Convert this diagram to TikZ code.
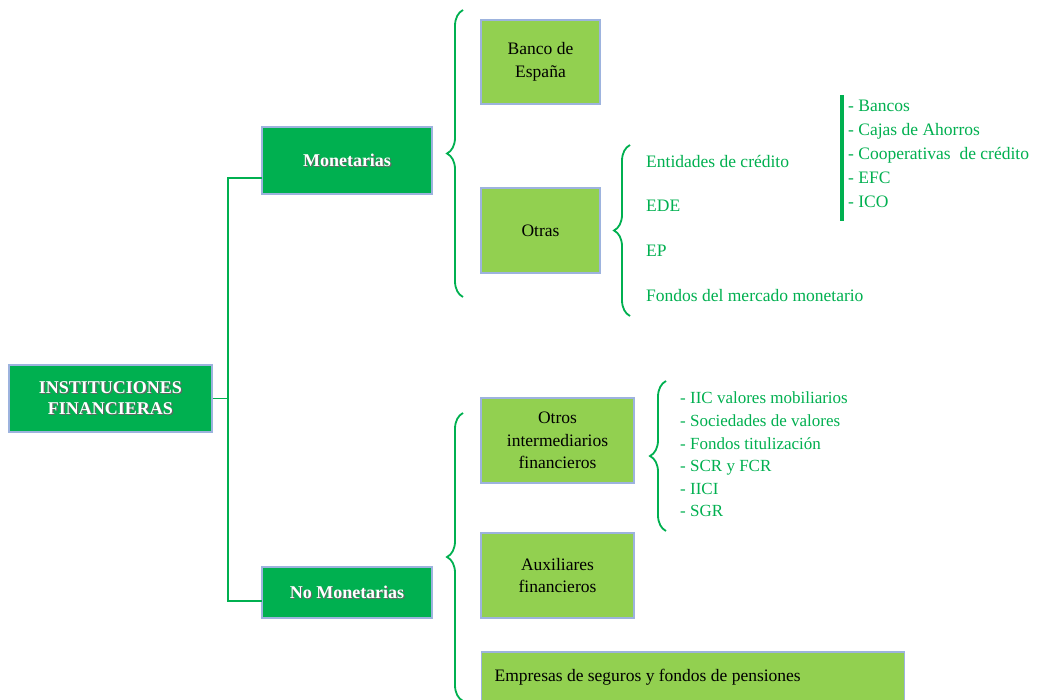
\documentclass[tikz,border=0pt]{standalone}
\usepackage{fontspec}
\setmainfont{Liberation Serif}
\usetikzlibrary{decorations.pathreplacing,calc}
\definecolor{dkgreen}{HTML}{00B050}
\definecolor{ltgreen}{HTML}{92D050}
\definecolor{bordblue}{HTML}{9DB3DE}
\definecolor{txgreen}{HTML}{00B050}
\newcommand\shtext[1]{\makebox[0pt][l]{\hspace{1.2pt}\raisebox{-1.2pt}{\textcolor{black!60}{#1}}}#1}
\tikzset{
  darkbox/.style={draw=bordblue, line width=1.2pt, fill=dkgreen, text=white, font=\fontsize{18}{21}\selectfont\bfseries, align=center, inner sep=0pt},
  lightbox/.style={draw=bordblue, line width=1.2pt, fill=ltgreen, text=black, font=\fontsize{17.5}{22.5}\selectfont, align=center, inner sep=0pt},
  gtext/.style={text=txgreen, font=\fontsize{17.5}{22.5}\selectfont, anchor=west, inner sep=0pt, align=left},
  conn/.style={draw=dkgreen, line width=1.6pt},
  bracestyle/.style={draw=dkgreen, line width=1.8pt, decorate, decoration={brace, amplitude=16pt}},
}
\begin{document}
\begin{tikzpicture}[x=1pt,y=-1pt]
\clip (0,0) rectangle (1049,699);
\fill[white] (0,0) rectangle (1049,699);
% main boxes
\node[darkbox, minimum width=203pt, minimum height=67pt] (inst) at (110.5,398.5) {\shtext{INSTITUCIONES}\\\shtext{FINANCIERAS}};
\node[darkbox, minimum width=170pt, minimum height=67pt] (mon) at (347,160.5) {\shtext{Monetarias}};
\node[darkbox, minimum width=170pt, minimum height=51pt] (nomon) at (347,592.5) {\shtext{No Monetarias}};
% light boxes
\node[lightbox, minimum width=119pt, minimum height=84pt] (banco) at (540.5,62) {Banco de\\España};
\node[lightbox, minimum width=119pt, minimum height=85pt] (otras) at (540.5,230.5) {Otras};
\node[lightbox, minimum width=153pt, minimum height=85pt] (oif) at (557.5,440.5) {Otros\\intermediarios\\financieros};
\node[lightbox, minimum width=153pt, minimum height=85pt] (aux) at (557.5,575.5) {Auxiliares\\financieros};
\node[lightbox, minimum width=423pt, minimum height=50pt, anchor=west, align=flush left, text width=397pt, inner xsep=13pt] (emp) at (481,677) {Empresas de seguros y fondos de pensiones};
% tree connectors
\coordinate (j) at (228,398.5);
\coordinate (jm) at (262,178);
\coordinate (jn) at (262,601);
\draw[conn] (inst.east) -- (j);
\draw[conn] (jm) -| (j) |- (jn);
% braces
\draw[bracestyle] (463,297) -- (463,10);
\draw[bracestyle] (463,701) -- (463,413);
\draw[bracestyle] (630,316) -- (630,145);
\draw[bracestyle] (666,531) -- (666,381);
% texts of Otras
\node[gtext] (ec) at (646,161) {Entidades de crédito};
\node[gtext] (ede) at (646,206) {EDE};
\node[gtext] (ep) at (646,251) {EP};
\node[gtext] (fmm) at (646,296) {Fondos del mercado monetario};
% bar and list
\draw[draw=dkgreen, line width=4pt] (842,95) -- (842,221);
\node[gtext, font=\fontsize{17.5}{24}\selectfont] (bl) at (848,154) {- Bancos\\- Cajas de Ahorros\\- Cooperativas\ \ de crédito\\- EFC\\- ICO};
% OIF list
\node[gtext, font=\fontsize{17}{22.6}\selectfont] (il) at (680,454.5) {- IIC valores mobiliarios\\- Sociedades de valores\\- Fondos titulización\\- SCR y FCR\\- IICI\\- SGR};
\end{tikzpicture}
\end{document}
